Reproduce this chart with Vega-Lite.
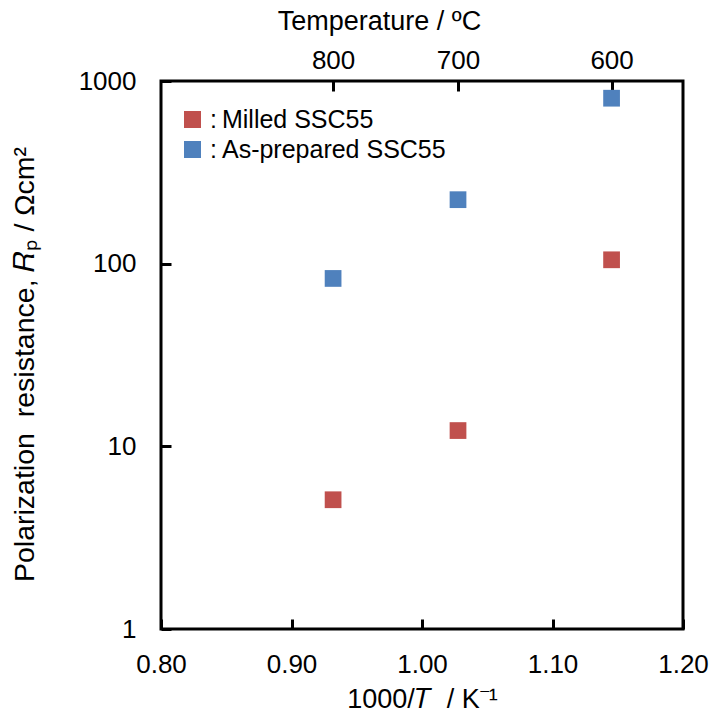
{
  "$schema": "https://vega.github.io/schema/vega-lite/v6.json",
  "width": 522,
  "height": 548,
  "autosize": "none",
  "padding": {"left": 161, "top": 81, "right": 26, "bottom": 84},
  "config": {
    "font": "Liberation Sans",
    "view": {"stroke": "#000", "strokeWidth": 3},
    "axis": {
      "domain": false, "grid": false, "ticks": true, "zindex": 1,
      "tickColor": "#000", "tickWidth": 3, "tickSize": 10, "offset": -10,
      "labelFontSize": 26, "labelColor": "#000", "labelFont": "Liberation Sans",
      "titleFontSize": 27, "titleFontWeight": "normal", "titleColor": "#000", "titleFont": "Liberation Sans",
      "labelFlush": false, "labelOverlap": false, "labelBound": false
    }
  },
  "data": {
    "values": [
      {"sample": "Milled SSC55", "invT": 0.93187, "Rp": 5.1},
      {"sample": "Milled SSC55", "invT": 1.0276, "Rp": 12.2},
      {"sample": "Milled SSC55", "invT": 1.14527, "Rp": 105},
      {"sample": "As-prepared SSC55", "invT": 0.93187, "Rp": 83},
      {"sample": "As-prepared SSC55", "invT": 1.0276, "Rp": 224},
      {"sample": "As-prepared SSC55", "invT": 1.14527, "Rp": 805}
    ]
  },
  "layer": [
    {
      "mark": {"type": "point", "shape": "square", "filled": true, "opacity": 1, "size": 280},
      "encoding": {
        "x": {
          "field": "invT", "type": "quantitative",
          "scale": {"domain": [0.8, 1.2], "nice": false, "zero": false},
          "axis": {"orient": "bottom", "values": [0.8, 0.9, 1.0, 1.1, 1.2], "format": ".2f",
                   "title": "1000/𝑇\u00a0 / K⁻¹", "labelPadding": 22, "labelDx": -3, "titlePadding": 9}
        },
        "y": {
          "field": "Rp", "type": "quantitative",
          "scale": {"type": "log", "domain": [1, 1000], "nice": false},
          "axis": {"values": [1, 10, 100, 1000], "format": "d",
                   "title": "Polarization\u00a0 resistance, 𝑅ₚ / Ωcm²", "titleFontSize": 28.5,
                   "labelPadding": 25, "titlePadding": 39, "titleY": 283}
        },
        "color": {
          "field": "sample", "type": "nominal",
          "scale": {"domain": ["Milled SSC55", "As-prepared SSC55"], "range": ["#C0504D", "#4F81BD"]},
          "legend": {
            "orient": "none", "legendX": 19, "legendY": 26, "title": null,
            "labelExpr": "':\u2009' + datum.label", "labelFontSize": 25, "labelColor": "#000", "labelLimit": 400,
            "symbolType": "square", "symbolSize": 289, "symbolStrokeWidth": 0,
            "rowPadding": 4, "labelOffset": 5
          }
        }
      }
    },
    {
      "mark": {"type": "point", "opacity": 0},
      "encoding": {
        "x": {
          "field": "invT", "type": "quantitative",
          "axis": {"orient": "top", "values": [0.93187, 1.0276, 1.14527],
                   "labelExpr": "format(1000/datum.value - 273.15, '.0f')",
                   "title": "Temperature / ºC", "titleFontSize": 27, "titleX": 218,
                   "labelPadding": 8, "labelDx": -4, "titlePadding": 12}
        }
      }
    }
  ],
  "resolve": {"axis": {"x": "independent"}}
}
